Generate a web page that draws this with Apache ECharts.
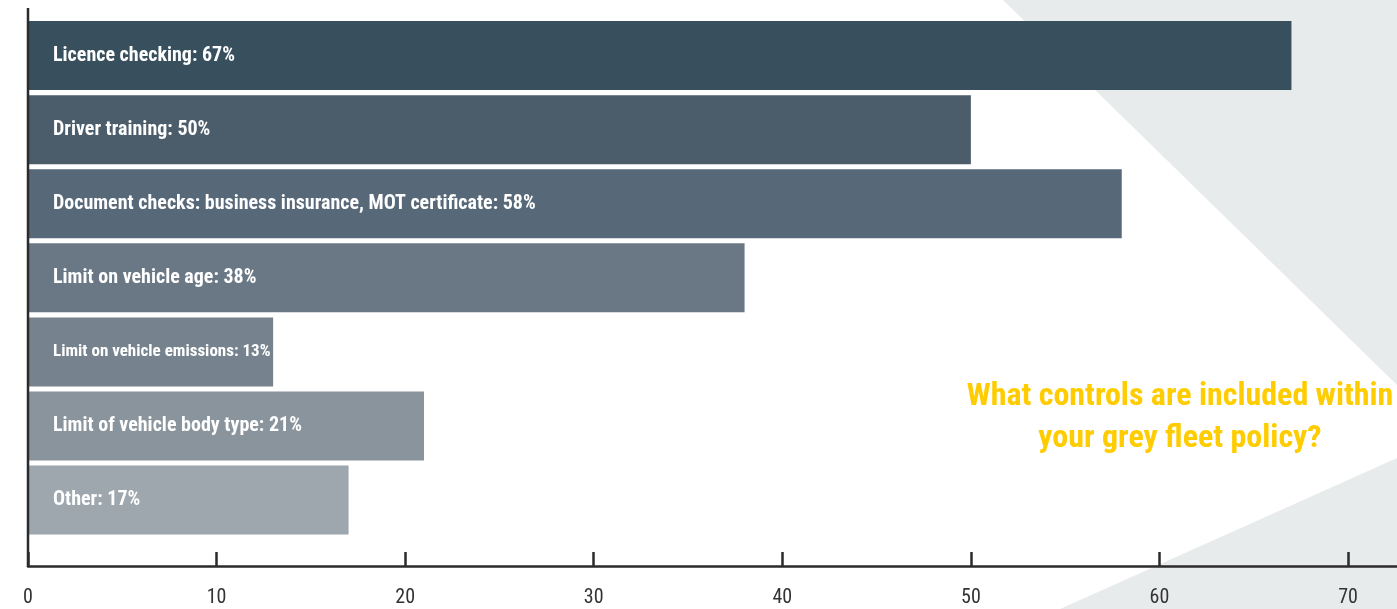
<!DOCTYPE html>
<html>
<head>
<meta charset="utf-8">
<title>Grey fleet policy controls</title>
<script src="https://cdn.jsdelivr.net/npm/echarts@6/dist/echarts.min.js"></script>
<style>
  html, body { margin: 0; padding: 0; background: #ffffff; }
  #chart { width: 1397px; height: 609px; }
</style>
</head>
<body>
<div id="chart"></div>
<script>
// Survey answers, top to bottom
const categories = [
  'Licence checking',
  'Driver training',
  'Document checks: business insurance, MOT certificate',
  'Limit on vehicle age',
  'Limit on vehicle emissions',
  'Limit of vehicle body type',
  'Other'
];
const values = [67, 50, 58, 38, 13, 21, 17];
const barColors = ['#38505E', '#4B5D6B', '#576878', '#6A7886', '#76838E', '#8A949D', '#9EA6AE'];
const tickValues = [0, 10, 20, 30, 40, 50, 60, 70];
const titleLines = ['What controls are included within', 'your grey fleet policy?'];

const FONT = "'Roboto Condensed', 'Open Sans Condensed', sans-serif";

const chart = echarts.init(document.getElementById('chart'), null, { renderer: 'canvas' });

chart.setOption({
  backgroundColor: '#ffffff',
  animation: false,
  // the value axis runs on past the right edge of the page
  grid: { left: 28, top: 18.5, height: 518.6, width: 1508.6, outerBoundsMode: 'none', containLabel: false },
  xAxis: {
    type: 'value',
    min: 0,
    max: 80,
    interval: 10,
    position: 'bottom',
    offset: 29,
    axisLine: { show: true, lineStyle: { color: '#2b2b2b', width: 2.5 } },
    axisTick: { show: true, inside: true, length: 14, lineStyle: { color: '#2b2b2b', width: 2.5 } },
    splitLine: { show: false },
    axisLabel: {
      margin: 22,
      color: '#333333',
      fontFamily: FONT,
      fontSize: 20,
      formatter: v => (tickValues.indexOf(v) >= 0 ? String(v) : '')
    }
  },
  yAxis: {
    type: 'category',
    data: categories,
    inverse: true,
    axisLine: { show: false },
    axisTick: { show: false },
    axisLabel: { show: false },
    splitLine: { show: false }
  },
  series: [{
    type: 'bar',
    barWidth: 69,
    z: 3,
    data: values.map((v, i) => ({
      value: v,
      itemStyle: { color: barColors[i] },
      // the shortest bar gets a slightly smaller label so the text stays on the bar
      label: v < 15 ? { fontSize: 17 } : undefined
    })),
    label: {
      show: true,
      position: [25, '50%'],
      align: 'left',
      verticalAlign: 'middle',
      color: '#ffffff',
      fontFamily: FONT,
      fontWeight: 'bold',
      fontSize: 20,
      formatter: p => p.name + ': ' + p.value + '%'
    }
  }],
  graphic: [
    // light grey background wedges on the right
    { type: 'polygon', z: -10, silent: true,
      shape: { points: [[1003, 0], [1397, 0], [1397, 385]] },
      style: { fill: '#E8EBEC' } },
    { type: 'polygon', z: -10, silent: true,
      shape: { points: [[1060, 609], [1397, 609], [1397, 458]] },
      style: { fill: '#E8EBEC' } },
    // vertical axis line
    { type: 'line', z: 50, silent: true,
      shape: { x1: 28, y1: 8, x2: 28, y2: 567 },
      style: { stroke: '#2b2b2b', lineWidth: 2.5 } },
    // question heading
    { type: 'text', z: 60, silent: true,
      x: 1180, y: 418,
      style: {
        text: titleLines.join('\n'),
        fill: '#FFCC00',
        font: 'bold 32px ' + FONT,
        lineHeight: 42,
        align: 'center',
        verticalAlign: 'middle'
      } }
  ]
});
</script>
</body>
</html>
